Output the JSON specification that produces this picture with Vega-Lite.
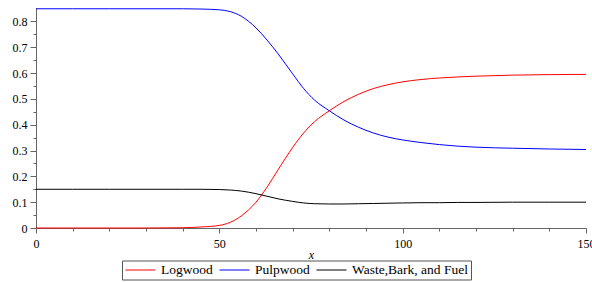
{
  "$schema": "https://vega.github.io/schema/vega-lite/v6.json",
  "autosize": {"type": "none"},
  "padding": {"left": 36, "top": 8, "right": 6, "bottom": 54},
  "width": 550,
  "height": 220,
  "config": {
    "view": {"stroke": null},
    "font": "Liberation Serif, Times New Roman, DejaVu Serif, serif",
    "axis": {"labelFont": "Liberation Serif, Times New Roman, DejaVu Serif, serif", "labelColor": "#000", "titleFont": "Liberation Serif, Times New Roman, DejaVu Serif, serif", "domainColor": "#666", "tickColor": "#666", "grid": false},
    "legend": {"labelFont": "Liberation Serif, Times New Roman, DejaVu Serif, serif"}
  },
  "data": {"values": [
    {"x": 0, "value": 0, "series": "Logwood"},
    {"x": 10, "value": 0, "series": "Logwood"},
    {"x": 20, "value": 0, "series": "Logwood"},
    {"x": 30, "value": 0, "series": "Logwood"},
    {"x": 40, "value": 0.001, "series": "Logwood"},
    {"x": 45, "value": 0.004, "series": "Logwood"},
    {"x": 50, "value": 0.010, "series": "Logwood"},
    {"x": 53, "value": 0.022, "series": "Logwood"},
    {"x": 56, "value": 0.047, "series": "Logwood"},
    {"x": 60, "value": 0.100, "series": "Logwood"},
    {"x": 63, "value": 0.158, "series": "Logwood"},
    {"x": 66, "value": 0.225, "series": "Logwood"},
    {"x": 70, "value": 0.312, "series": "Logwood"},
    {"x": 73, "value": 0.368, "series": "Logwood"},
    {"x": 76, "value": 0.412, "series": "Logwood"},
    {"x": 80, "value": 0.454, "series": "Logwood"},
    {"x": 84, "value": 0.490, "series": "Logwood"},
    {"x": 88, "value": 0.518, "series": "Logwood"},
    {"x": 92, "value": 0.540, "series": "Logwood"},
    {"x": 96, "value": 0.555, "series": "Logwood"},
    {"x": 100, "value": 0.566, "series": "Logwood"},
    {"x": 105, "value": 0.575, "series": "Logwood"},
    {"x": 110, "value": 0.581, "series": "Logwood"},
    {"x": 115, "value": 0.585, "series": "Logwood"},
    {"x": 120, "value": 0.588, "series": "Logwood"},
    {"x": 130, "value": 0.592, "series": "Logwood"},
    {"x": 140, "value": 0.594, "series": "Logwood"},
    {"x": 150, "value": 0.595, "series": "Logwood"},
    {"x": 0, "value": 0.849, "series": "Pulpwood"},
    {"x": 10, "value": 0.849, "series": "Pulpwood"},
    {"x": 20, "value": 0.849, "series": "Pulpwood"},
    {"x": 30, "value": 0.849, "series": "Pulpwood"},
    {"x": 40, "value": 0.849, "series": "Pulpwood"},
    {"x": 45, "value": 0.848, "series": "Pulpwood"},
    {"x": 50, "value": 0.845, "series": "Pulpwood"},
    {"x": 53, "value": 0.838, "series": "Pulpwood"},
    {"x": 56, "value": 0.820, "series": "Pulpwood"},
    {"x": 60, "value": 0.775, "series": "Pulpwood"},
    {"x": 63, "value": 0.728, "series": "Pulpwood"},
    {"x": 66, "value": 0.675, "series": "Pulpwood"},
    {"x": 70, "value": 0.597, "series": "Pulpwood"},
    {"x": 73, "value": 0.540, "series": "Pulpwood"},
    {"x": 76, "value": 0.495, "series": "Pulpwood"},
    {"x": 80, "value": 0.454, "series": "Pulpwood"},
    {"x": 84, "value": 0.418, "series": "Pulpwood"},
    {"x": 88, "value": 0.390, "series": "Pulpwood"},
    {"x": 92, "value": 0.368, "series": "Pulpwood"},
    {"x": 96, "value": 0.352, "series": "Pulpwood"},
    {"x": 100, "value": 0.341, "series": "Pulpwood"},
    {"x": 105, "value": 0.331, "series": "Pulpwood"},
    {"x": 110, "value": 0.323, "series": "Pulpwood"},
    {"x": 115, "value": 0.317, "series": "Pulpwood"},
    {"x": 120, "value": 0.313, "series": "Pulpwood"},
    {"x": 130, "value": 0.309, "series": "Pulpwood"},
    {"x": 140, "value": 0.306, "series": "Pulpwood"},
    {"x": 150, "value": 0.304, "series": "Pulpwood"},
    {"x": 0, "value": 0.150, "series": "Waste,Bark, and Fuel"},
    {"x": 10, "value": 0.150, "series": "Waste,Bark, and Fuel"},
    {"x": 20, "value": 0.150, "series": "Waste,Bark, and Fuel"},
    {"x": 30, "value": 0.150, "series": "Waste,Bark, and Fuel"},
    {"x": 40, "value": 0.150, "series": "Waste,Bark, and Fuel"},
    {"x": 45, "value": 0.150, "series": "Waste,Bark, and Fuel"},
    {"x": 50, "value": 0.149, "series": "Waste,Bark, and Fuel"},
    {"x": 53, "value": 0.147, "series": "Waste,Bark, and Fuel"},
    {"x": 56, "value": 0.143, "series": "Waste,Bark, and Fuel"},
    {"x": 60, "value": 0.133, "series": "Waste,Bark, and Fuel"},
    {"x": 63, "value": 0.123, "series": "Waste,Bark, and Fuel"},
    {"x": 66, "value": 0.113, "series": "Waste,Bark, and Fuel"},
    {"x": 70, "value": 0.103, "series": "Waste,Bark, and Fuel"},
    {"x": 73, "value": 0.097, "series": "Waste,Bark, and Fuel"},
    {"x": 76, "value": 0.094, "series": "Waste,Bark, and Fuel"},
    {"x": 80, "value": 0.093, "series": "Waste,Bark, and Fuel"},
    {"x": 84, "value": 0.093, "series": "Waste,Bark, and Fuel"},
    {"x": 88, "value": 0.094, "series": "Waste,Bark, and Fuel"},
    {"x": 92, "value": 0.095, "series": "Waste,Bark, and Fuel"},
    {"x": 96, "value": 0.096, "series": "Waste,Bark, and Fuel"},
    {"x": 100, "value": 0.097, "series": "Waste,Bark, and Fuel"},
    {"x": 105, "value": 0.098, "series": "Waste,Bark, and Fuel"},
    {"x": 110, "value": 0.098, "series": "Waste,Bark, and Fuel"},
    {"x": 115, "value": 0.099, "series": "Waste,Bark, and Fuel"},
    {"x": 120, "value": 0.099, "series": "Waste,Bark, and Fuel"},
    {"x": 130, "value": 0.100, "series": "Waste,Bark, and Fuel"},
    {"x": 140, "value": 0.100, "series": "Waste,Bark, and Fuel"},
    {"x": 150, "value": 0.100, "series": "Waste,Bark, and Fuel"}
  ]},
  "mark": {"type": "line", "interpolate": "monotone", "strokeWidth": 1},
  "encoding": {
    "x": {
      "field": "x", "type": "quantitative",
      "scale": {"domain": [0, 150], "nice": false},
      "axis": {
        "title": "x", "titleFontStyle": "italic", "titleFontWeight": "normal", "titleFontSize": 12, "titlePadding": 0,
        "values": [0, 10, 20, 30, 40, 50, 60, 70, 80, 90, 100, 110, 120, 130, 140, 150],
        "labelExpr": "datum.value % 50 == 0 ? datum.label : ''",
        "labelFontSize": 12, "labelPadding": 5, "labelFlush": false,
        "tickSize": {"condition": {"test": "datum.value % 50 == 0", "value": 5}, "value": 3}
      }
    },
    "y": {
      "field": "value", "type": "quantitative",
      "scale": {"domain": [0, 0.852], "nice": false, "zero": true},
      "axis": {
        "title": null,
        "values": [0, 0.05, 0.1, 0.15, 0.2, 0.25, 0.3, 0.35, 0.4, 0.45, 0.5, 0.55, 0.6, 0.65, 0.7, 0.75, 0.8],
        "labelExpr": "round(datum.value * 20) % 2 == 0 ? format(datum.value, '.1~f') : ''",
        "labelFontSize": 12, "labelPadding": 3,
        "tickSize": {"condition": {"test": "round(datum.value * 20) % 2 == 0", "value": 6}, "value": 3}
      }
    },
    "color": {
      "field": "series", "type": "nominal",
      "scale": {"domain": ["Logwood", "Pulpwood", "Waste,Bark, and Fuel"], "range": ["#ff0000", "#0000ff", "#000000"]},
      "legend": {
        "title": null, "orient": "none", "legendX": 86, "legendY": 252.5, "direction": "horizontal",
        "symbolType": "stroke", "symbolSize": 900, "symbolStrokeWidth": 1, "clipHeight": 13,
        "labelFontSize": 13.5, "labelColor": "#000", "labelOffset": 5,
        "columnPadding": 6, "padding": 3, "strokeColor": "#555", "labelLimit": 300
      }
    }
  }
}
